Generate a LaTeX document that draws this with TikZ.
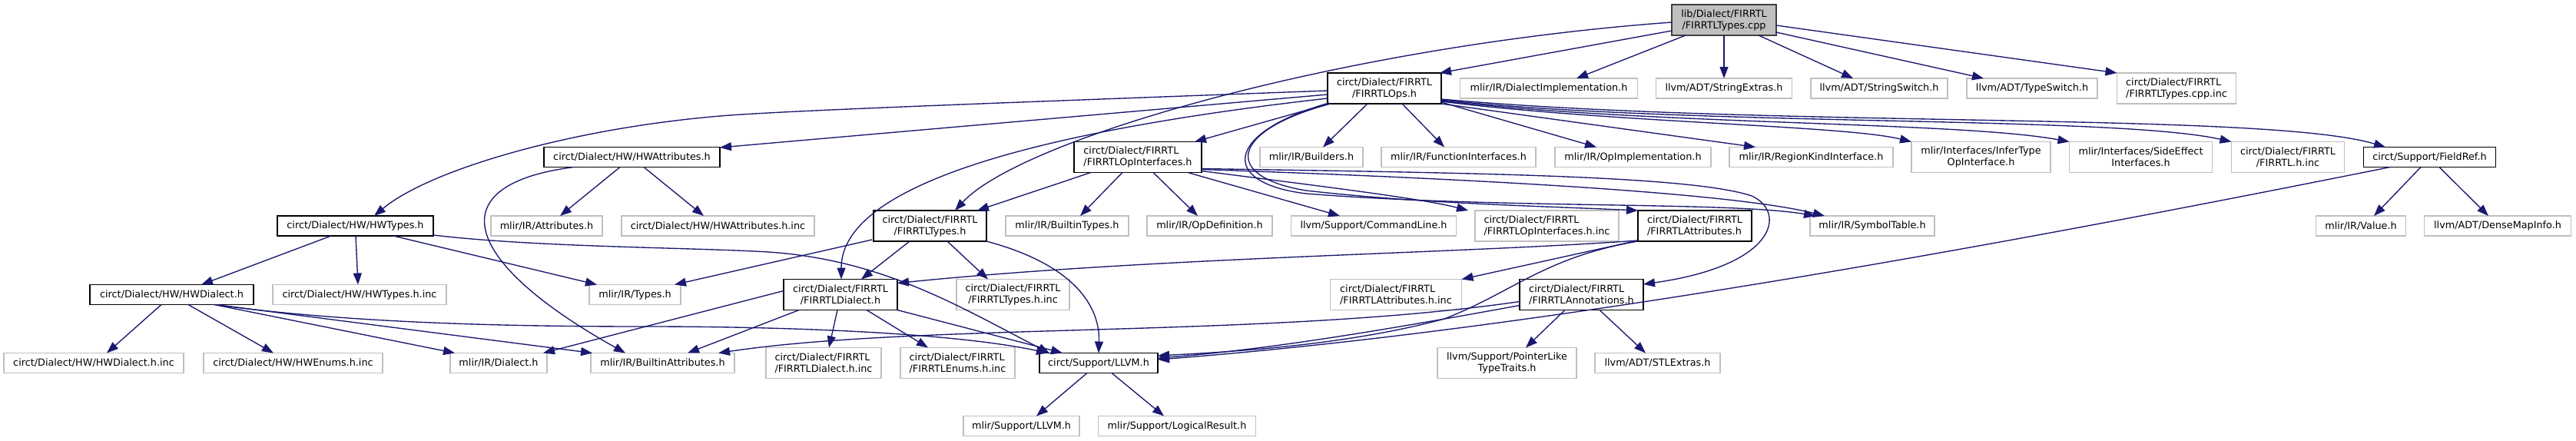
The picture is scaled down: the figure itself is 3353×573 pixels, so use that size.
\documentclass[tikz,border=0pt]{standalone}
\usepackage{fontspec}
\setmainfont{DejaVu Sans}
\usetikzlibrary{arrows.meta,calc}
\definecolor{edgeblue}{HTML}{191970}
\definecolor{greyl}{HTML}{BFBFBF}
\definecolor{darkb}{HTML}{404040}
\tikzset{
  box/.style={draw, rectangle, fill=white, line width=1.1pt, inner sep=0pt, minimum height=26pt,
    font=\fontsize{12.8pt}{15pt}\selectfont, text=black},
  inner/.style={box, draw=black},
  leaf/.style={box, draw=greyl},
  rootbox/.style={box, draw=darkb, fill=greyl},
  two/.style={minimum height=40pt, align=center},
  twol/.style={minimum height=40pt, align=left},
  dep/.style={draw=edgeblue, line width=1.35pt, -{Triangle[length=15pt,width=11pt]}}
}
\begin{document}
\begin{tikzpicture}[x=1pt,y=-1pt]
\useasboundingbox (0,0) rectangle (3353,573);
\fill[white] (0,0) rectangle (3353,573);
% row 0
\node[rootbox,two,minimum width=136pt] (root) at (2244,26) {lib/Dialect/FIRRTL\\/FIRRTLTypes.cpp};
% row 1
\node[inner,two,minimum width=148pt] (ops) at (1802,115) {circt/Dialect/FIRRTL\\/FIRRTLOps.h};
\node[leaf,minimum width=231pt] (dimpl) at (2016,115) {mlir/IR/DialectImplementation.h};
\node[leaf,minimum width=177pt] (strext) at (2244,115) {llvm/ADT/StringExtras.h};
\node[leaf,minimum width=178pt] (strsw) at (2446,115) {llvm/ADT/StringSwitch.h};
\node[leaf,minimum width=170pt] (tysw) at (2645,115) {llvm/ADT/TypeSwitch.h};
\node[leaf,twol,minimum width=155pt] (cppinc) at (2833,115) {circt/Dialect/FIRRTL\\/FIRRTLTypes.cpp.inc};
% row 2
\node[inner,minimum width=229pt] (hwattr) at (822.5,204.5) {circt/Dialect/HW/HWAttributes.h};
\node[inner,twol,minimum width=166pt] (opif) at (1481,204.5) {circt/Dialect/FIRRTL\\/FIRRTLOpInterfaces.h};
\node[leaf,minimum width=134pt] (builders) at (1707,204.5) {mlir/IR/Builders.h};
\node[leaf,minimum width=201pt] (funcif) at (1898.5,204.5) {mlir/IR/FunctionInterfaces.h};
\node[leaf,minimum width=203pt] (opimpl) at (2125.5,204.5) {mlir/IR/OpImplementation.h};
\node[leaf,minimum width=213pt] (regkind) at (2357.5,204.5) {mlir/IR/RegionKindInterface.h};
\node[leaf,two,minimum width=181pt] (infer) at (2578.5,204.5) {mlir/Interfaces/InferType\\OpInterface.h};
\node[leaf,two,minimum width=186pt] (sideeff) at (2786.5,204.5) {mlir/Interfaces/SideEffect\\Interfaces.h};
\node[leaf,two,minimum width=147.5pt] (firrtlinc) at (2978,204.5) {circt/Dialect/FIRRTL\\/FIRRTL.h.inc};
\node[inner,minimum width=172pt] (fieldref) at (3162.5,204.5) {circt/Support/FieldRef.h};
% row 3
\node[inner,minimum width=203pt] (hwtypes) at (462.5,294) {circt/Dialect/HW/HWTypes.h};
\node[leaf,minimum width=145pt] (attrs) at (711.5,294) {mlir/IR/Attributes.h};
\node[leaf,minimum width=251pt] (hwattrinc) at (934.5,294) {circt/Dialect/HW/HWAttributes.h.inc};
\node[inner,two,minimum width=147pt] (firtypes) at (1210.5,294) {circt/Dialect/FIRRTL\\/FIRRTLTypes.h};
\node[leaf,minimum width=160pt] (btypes) at (1389,294) {mlir/IR/BuiltinTypes.h};
\node[leaf,minimum width=163pt] (opdef) at (1574.5,294) {mlir/IR/OpDefinition.h};
\node[leaf,minimum width=215pt] (cmdline) at (1788,294) {llvm/Support/CommandLine.h};
\node[leaf,twol,minimum width=187pt] (opifinc) at (2013.5,294) {circt/Dialect/FIRRTL\\/FIRRTLOpInterfaces.h.inc};
\node[inner,twol,minimum width=148pt] (firattr) at (2206,294) {circt/Dialect/FIRRTL\\/FIRRTLAttributes.h};
\node[leaf,minimum width=162pt] (symtab) at (2437,294) {mlir/IR/SymbolTable.h};
\node[leaf,minimum width=116.5pt] (value) at (3073,294) {mlir/IR/Value.h};
\node[leaf,minimum width=191.5pt] (densemap) at (3251,294) {llvm/ADT/DenseMapInfo.h};
% row 4
\node[inner,minimum width=213pt] (hwdialect) at (223.5,383.5) {circt/Dialect/HW/HWDialect.h};
\node[leaf,minimum width=226pt] (hwtypesinc) at (468,383.5) {circt/Dialect/HW/HWTypes.h.inc};
\node[leaf,minimum width=119pt] (types) at (826.5,383.5) {mlir/IR/Types.h};
\node[inner,two,minimum width=148pt] (firdialect) at (1094,383.5) {circt/Dialect/FIRRTL\\/FIRRTLDialect.h};
\node[leaf,two,minimum width=147pt] (firtypesinc) at (1318.5,383.5) {circt/Dialect/FIRRTL\\/FIRRTLTypes.h.inc};
\node[leaf,twol,minimum width=170.5pt] (firattrinc) at (1817,383.5) {circt/Dialect/FIRRTL\\/FIRRTLAttributes.h.inc};
\node[inner,twol,minimum width=161pt] (annot) at (2058.5,383.5) {circt/Dialect/FIRRTL\\/FIRRTLAnnotations.h};
% row 5
\node[leaf,minimum width=234pt] (hwdialinc) at (122,472.5) {circt/Dialect/HW/HWDialect.h.inc};
\node[leaf,minimum width=233pt] (hwenums) at (381.5,472.5) {circt/Dialect/HW/HWEnums.h.inc};
\node[leaf,minimum width=126pt] (dialect) at (649,472.5) {mlir/IR/Dialect.h};
\node[leaf,minimum width=187pt] (battrs) at (862.5,472.5) {mlir/IR/BuiltinAttributes.h};
\node[leaf,twol,minimum width=150pt] (firdialinc) at (1072,472.5) {circt/Dialect/FIRRTL\\/FIRRTLDialect.h.inc};
\node[leaf,twol,minimum width=149pt] (firenums) at (1246.5,472.5) {circt/Dialect/FIRRTL\\/FIRRTLEnums.h.inc};
\node[inner,minimum width=154pt] (llvm) at (1430,472.5) {circt/Support/LLVM.h};
\node[leaf,two,minimum width=181pt] (ptrlike) at (1961.5,472.5) {llvm/Support/PointerLike\\TypeTraits.h};
\node[leaf,minimum width=163pt] (stlext) at (2157.5,472.5) {llvm/ADT/STLExtras.h};
% row 6
\node[leaf,minimum width=151pt] (mlirllvm) at (1329.5,554.5) {mlir/Support/LLVM.h};
\node[leaf,minimum width=205.5pt] (logres) at (1532,554.5) {mlir/Support/LogicalResult.h};

% ---- edges from root
\draw[dep] ($(root)+(-68,14)$) -- ($(ops)+(72,-20)$);
\draw[dep] ($(root)+(-50,20)$) -- ($(dimpl)+(36,-13)$);
\draw[dep] ($(root)+(0,20)$) -- ($(strext)+(0,-13)$);
\draw[dep] ($(root)+(45,20)$) -- ($(strsw)+(-34,-13)$);
\draw[dep] ($(root)+(68,16)$) -- ($(tysw)+(-63,-13)$);
\draw[dep] ($(root)+(68,7)$) -- ($(cppinc)+(-77.5,-20)$);
\draw[dep] ($(root)+(-68,3)$) .. controls (1750,60) and (1330,180) .. ($(firtypes)+(32.5,-20)$);
% ---- edges from FIRRTLOps.h
\draw[dep] ($(ops)+(-74,3)$) .. controls (1300,134) and (1050,143) .. (950,150)
   .. controls (750,165) and (560,220) .. ($(hwtypes)+(24.5,-13)$);
\draw[dep] ($(ops)+(-74,8)$) -- ($(hwattr)+(114.5,-12.5)$);
\draw[dep] ($(ops)+(-74,13)$) .. controls (1400,165) and (1095,230) .. ($(firdialect)+(1,-20)$);
\draw[dep] ($(ops)+(-72,20)$) -- ($(opif)+(74,-20)$);
\draw[dep] ($(ops)+(-22,20)$) -- ($(builders)+(15,-13)$);
\draw[dep] ($(ops)+(23,20)$) -- ($(funcif)+(-18.5,-13)$);
\draw[dep] ($(ops)+(74,18)$) -- ($(opimpl)+(-47.5,-13)$);
\draw[dep] ($(ops)+(74,20)$) -- ($(regkind)+(-72.5,-13)$);
\draw[dep] ($(ops)+(74,17)$) .. controls (2100,160) and (2400,163) .. ($(infer)+(-90.5,-20)$);
\draw[dep] ($(ops)+(74,16)$) .. controls (2150,163) and (2550,158) .. ($(sideeff)+(-93,-20)$);
\draw[dep] ($(ops)+(74,15)$) .. controls (2200,165) and (2750,150) .. ($(firrtlinc)+(-73.5,-20)$);
\draw[dep] ($(ops)+(74,14)$) .. controls (2300,167) and (2950,145) .. ($(fieldref)+(-57.5,-13)$);
\draw[dep] ($(ops)+(-70,20)$) .. controls (1600,170) and (1590,230) .. (1700,248)
   .. controls (1850,265) and (2000,268) .. ($(firattr)+(-74,-20)$);
\draw[dep] ($(ops)+(-72,19)$) .. controls (1595,172) and (1585,238) .. (1700,252)
   .. controls (1950,272) and (2250,262) .. ($(symtab)+(-74,-13)$);
% ---- edges from FIRRTLOpInterfaces.h
\draw[dep] ($(opif)+(-61,20)$) -- ($(firtypes)+(61.5,-20)$);
\draw[dep] ($(opif)+(-20,20)$) -- ($(btypes)+(17,-13)$);
\draw[dep] ($(opif)+(20,20)$) -- ($(opdef)+(-15.5,-13)$);
\draw[dep] ($(opif)+(65,20)$) -- ($(cmdline)+(-44,-13)$);
\draw[dep] ($(opif)+(83,18)$) .. controls (1700,240) and (1850,258) .. ($(opifinc)+(-102.5,-20)$);
\draw[dep] ($(opif)+(83,16)$) .. controls (1900,232) and (2250,250) .. ($(symtab)+(-62,-13)$);
\draw[dep] ($(opif)+(83,15)$) .. controls (1900,225) and (2200,228) .. (2280,255)
   .. controls (2325,275) and (2315,345) .. ($(annot)+(80.5,-13.5)$);
% ---- HW
\draw[dep] ($(hwattr)+(-15.5,13)$) -- ($(attrs)+(17.5,-13)$);
\draw[dep] ($(hwattr)+(15.5,13)$) -- ($(hwattrinc)+(-18.5,-13)$);
\draw[dep] ($(hwattr)+(-75.5,13)$) .. controls (570,240) and (600,340) .. ($(battrs)+(-48.5,-13)$);
\draw[dep] ($(hwtypes)+(-31.5,13)$) -- ($(hwdialect)+(38.5,-13)$);
\draw[dep] ($(hwtypes)+(0.5,13)$) -- ($(hwtypesinc)+(-2,-13)$);
\draw[dep] ($(hwtypes)+(49.5,13)$) -- ($(types)+(-49.5,-13)$);
\draw[dep] ($(hwtypes)+(101.5,12)$) .. controls (700,322) and (900,322) .. (1000,328)
   .. controls (1150,338) and (1250,400) .. ($(llvm)+(-64,-13)$);
\draw[dep] ($(hwdialect)+(-13.5,13)$) -- ($(hwdialinc)+(17,-13)$);
\draw[dep] ($(hwdialect)+(21.5,13)$) -- ($(hwenums)+(-25.5,-13)$);
\draw[dep] ($(hwdialect)+(55.5,13)$) -- ($(dialect)+(-57,-13)$);
\draw[dep] ($(hwdialect)+(57.5,13)$) -- ($(battrs)+(-91.5,-13)$);
\draw[dep] ($(hwdialect)+(56,13)$) .. controls (450,420) and (650,425) .. (840,425)
   .. controls (1050,425) and (1250,435) .. ($(llvm)+(-66,-13)$);
% ---- FIRRTLTypes.h
\draw[dep] ($(firtypes)+(-75.5,18)$) -- ($(types)+(51.5,-13)$);
\draw[dep] ($(firtypes)+(-26.5,20)$) -- ($(firdialect)+(27,-20)$);
\draw[dep] ($(firtypes)+(22.5,20)$) -- ($(firtypesinc)+(-32.5,-20)$);
\draw[dep] ($(firtypes)+(73.5,20)$) .. controls (1400,345) and (1432,400) .. ($(llvm)+(0,-13)$);
% ---- FIRRTLAttributes.h
\draw[dep] ($(firattr)+(-74,19)$) .. controls (1900,330) and (1500,335) .. ($(firdialect)+(74,-15)$);
\draw[dep] ($(firattr)+(-74,19)$) -- ($(firattrinc)+(85.5,-20)$);
\draw[dep] ($(firattr)+(-74,20)$) .. controls (2010,335) and (1970,380) .. (1880,415)
   .. controls (1750,450) and (1600,458) .. ($(llvm)+(77,-9.5)$);
% ---- FIRRTLAnnotations.h
\draw[dep] ($(annot)+(-21.5,20)$) -- ($(ptrlike)+(24.5,-20)$);
\draw[dep] ($(annot)+(23.5,20)$) -- ($(stlext)+(-15.5,-13)$);
\draw[dep] ($(annot)+(-80.5,14)$) .. controls (1800,430) and (1650,455) .. ($(llvm)+(77,-6.5)$);
\draw[dep] ($(annot)+(-80.5,9)$) .. controls (1650,440) and (1200,420) .. ($(battrs)+(72.5,-13)$);
% ---- FieldRef.h
\draw[dep] ($(fieldref)+(-11.5,13)$) -- ($(value)+(17,-13)$);
\draw[dep] ($(fieldref)+(12.5,13)$) -- ($(densemap)+(-12,-13)$);
\draw[dep] ($(fieldref)+(-51.5,13)$) .. controls (2600,320) and (2000,430) .. ($(llvm)+(77,-4.5)$);
% ---- FIRRTLDialect.h
\draw[dep] ($(firdialect)+(-74,-5)$) -- ($(dialect)+(58,-13)$);
\draw[dep] ($(firdialect)+(-54,20)$) -- ($(battrs)+(32.5,-13)$);
\draw[dep] ($(firdialect)+(-4,20)$) -- ($(firdialinc)+(7,-20)$);
\draw[dep] ($(firdialect)+(34,20)$) -- ($(firenums)+(-38.5,-20)$);
\draw[dep] ($(firdialect)+(74,20)$) -- ($(llvm)+(-47,-13)$);
% ---- circt/Support/LLVM.h
\draw[dep] ($(llvm)+(-15,13)$) -- ($(mlirllvm)+(19.5,-13)$);
\draw[dep] ($(llvm)+(17,13)$) -- ($(logres)+(-17,-13)$);
\end{tikzpicture}
\end{document}
